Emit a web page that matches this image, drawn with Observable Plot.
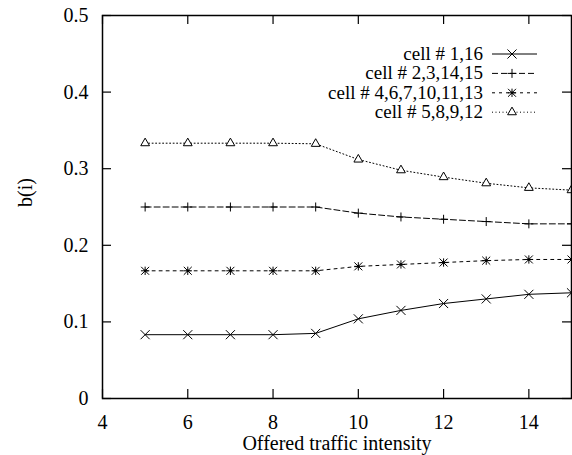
<!DOCTYPE html>
<html><head><meta charset="utf-8">
<script src="https://cdn.jsdelivr.net/npm/d3@7"></script>
<script src="https://cdn.jsdelivr.net/npm/@observablehq/plot@0.6"></script>
<style>
html,body{margin:0;padding:0;background:#fff;}
#chart{width:572px;height:455px;}
#chart svg, #chart svg text{font-family:"Liberation Serif", serif !important;font-size:20px;}
#chart svg .legend text{font-size:19px;}
</style></head><body><div id="chart"></div>
<script>
// ---- data ----
const intensity = [5, 6, 7, 8, 9, 10, 11, 12, 13, 14, 15];
const cell_1_16 = [0.0833, 0.0833, 0.0833, 0.0833, 0.085, 0.104, 0.115, 0.124, 0.130, 0.136, 0.138];
const cell_2_3_14_15 = [0.25, 0.25, 0.25, 0.25, 0.25, 0.242, 0.237, 0.234, 0.231, 0.228, 0.228];
const cell_4_6_7_10_11_13 = [0.1667, 0.1667, 0.1667, 0.1667, 0.1667, 0.1725, 0.175, 0.1775, 0.180, 0.1815, 0.1815];
const cell_5_8_9_12 = [0.3333, 0.3333, 0.3333, 0.3333, 0.3325, 0.312, 0.298, 0.289, 0.281, 0.275, 0.272];
const seriesNames = ["cell # 1,16", "cell # 2,3,14,15", "cell # 4,6,7,10,11,13", "cell # 5,8,9,12"];
const xTicks = [4, 6, 8, 10, 12, 14];
const yTicks = [0, 0.1, 0.2, 0.3, 0.4, 0.5];
const yTickLabels = ["0", "0.1", "0.2", "0.3", "0.4", "0.5"];
const xLabel = "Offered traffic intensity";
const yLabel = "b(i)";

// ---- styles ----
const seriesValues = [cell_1_16, cell_2_3_14_15, cell_4_6_7_10_11_13, cell_5_8_9_12];
const dashes = [null, "6,3", "3,4", "1,2.5"];
const W = 572, H = 455, mL = 102, mR = 1, mT = 15, mB = 57;
const pw = W - mL - mR, ph = H - mT - mB, tick = 9;

const tables = seriesValues.map((vals, i) =>
  intensity.map((x, j) => ({x, y: vals[j], series: seriesNames[i]})));

const marks = [];
tables.forEach((t, i) => {
  marks.push(Plot.line(t, {x: "x", y: "y", stroke: "black", strokeWidth: 1,
    strokeDasharray: dashes[i] || undefined}));
});
// markers
marks.push(Plot.dot(tables[0], {x: "x", y: "y", symbol: "times", r: 4.2, stroke: "black", strokeWidth: 1}));
marks.push(Plot.dot(tables[1], {x: "x", y: "y", symbol: "plus", r: 3.0, stroke: "black", strokeWidth: 1}));
marks.push(Plot.dot(tables[2], {x: "x", y: "y", symbol: "plus", r: 2.8, stroke: "black", strokeWidth: 1}));
marks.push(Plot.dot(tables[2], {x: "x", y: "y", symbol: "times", r: 3.7, stroke: "black", strokeWidth: 1}));
marks.push(Plot.dot(tables[2], {x: "x", y: "y", symbol: "circle", r: 1.3, fill: "black"}));
marks.push(Plot.dot(tables[3], {x: "x", y: "y", symbol: "triangle2", r: 4.2, stroke: "black", strokeWidth: 1, fill: "white"}));

// frame & inward ticks
marks.push(Plot.frame({stroke: "black", strokeWidth: 1.5}));
marks.push(Plot.tickY(yTicks, {y: d => d, insetRight: pw - tick, stroke: "black", strokeWidth: 1.2}));
marks.push(Plot.tickY(yTicks, {y: d => d, insetLeft: pw - tick, stroke: "black", strokeWidth: 1.2}));
marks.push(Plot.tickX(xTicks, {x: d => d, insetTop: ph - tick, stroke: "black", strokeWidth: 1.2}));
marks.push(Plot.tickX(xTicks, {x: d => d, insetBottom: ph - tick, stroke: "black", strokeWidth: 1.2}));

// axes labels
marks.push(Plot.axisY(yTicks, {tickSize: 0, tickPadding: 14, label: null,
  tickFormat: d => yTickLabels[yTicks.indexOf(d)], fill: "black"}));
marks.push(Plot.axisX(xTicks, {tickSize: 0, tickPadding: 16, label: null, fill: "black"}));
marks.push(Plot.text([xLabel], {text: d => d, frameAnchor: "bottom", dy: 45, lineAnchor: "middle", fill: "black"}));
marks.push(Plot.text([yLabel], {text: d => d, frameAnchor: "left", dx: -77, rotate: -90, lineAnchor: "middle", fill: "black"}));

const svg = Plot.plot({
  width: W, height: H,
  marginLeft: mL, marginRight: mR, marginTop: mT, marginBottom: mB,
  x: {domain: [4, 15], axis: null},
  y: {domain: [0, 0.5], axis: null},
  style: {background: "white", color: "black"},
  marks
});
svg.setAttribute("font-family", "Liberation Serif, serif");
svg.setAttribute("font-size", "20");
document.getElementById("chart").appendChild(svg);

// ---- legend (drawn in the same svg) ----
const lg = d3.select(svg).append("g").attr("class", "legend");
const legendRight = 483, lineX1 = 492, lineX2 = 537, markX = 512, row0 = 54, rowH = 19.4;
const sym = (type, r) => d3.symbol(type, r * r * Math.PI)();
seriesNames.forEach((name, i) => {
  const y = row0 + i * rowH;
  lg.append("text").attr("x", legendRight).attr("y", y).attr("dy", "0.32em")
    .attr("text-anchor", "end").attr("fill", "black").text(name);
  lg.append("line").attr("x1", lineX1).attr("x2", lineX2).attr("y1", y).attr("y2", y)
    .attr("stroke", "black").attr("stroke-width", 1)
    .attr("stroke-dasharray", dashes[i]);
  const g = lg.append("g").attr("transform", `translate(${markX},${y})`)
    .attr("stroke", "black").attr("fill", "none").attr("stroke-width", 1);
  if (i === 0) g.append("path").attr("d", sym(d3.symbolTimes, 4.2));
  if (i === 1) g.append("path").attr("d", sym(d3.symbolPlus, 3.0));
  if (i === 2) {
    g.append("path").attr("d", sym(d3.symbolPlus, 2.8));
    g.append("path").attr("d", sym(d3.symbolTimes, 3.7));
    g.append("circle").attr("r", 1.3).attr("fill", "black").attr("stroke", "none");
  }
  if (i === 3) g.append("path").attr("d", sym(d3.symbolTriangle2, 4.2)).attr("fill", "white");
});
</script></body></html>
